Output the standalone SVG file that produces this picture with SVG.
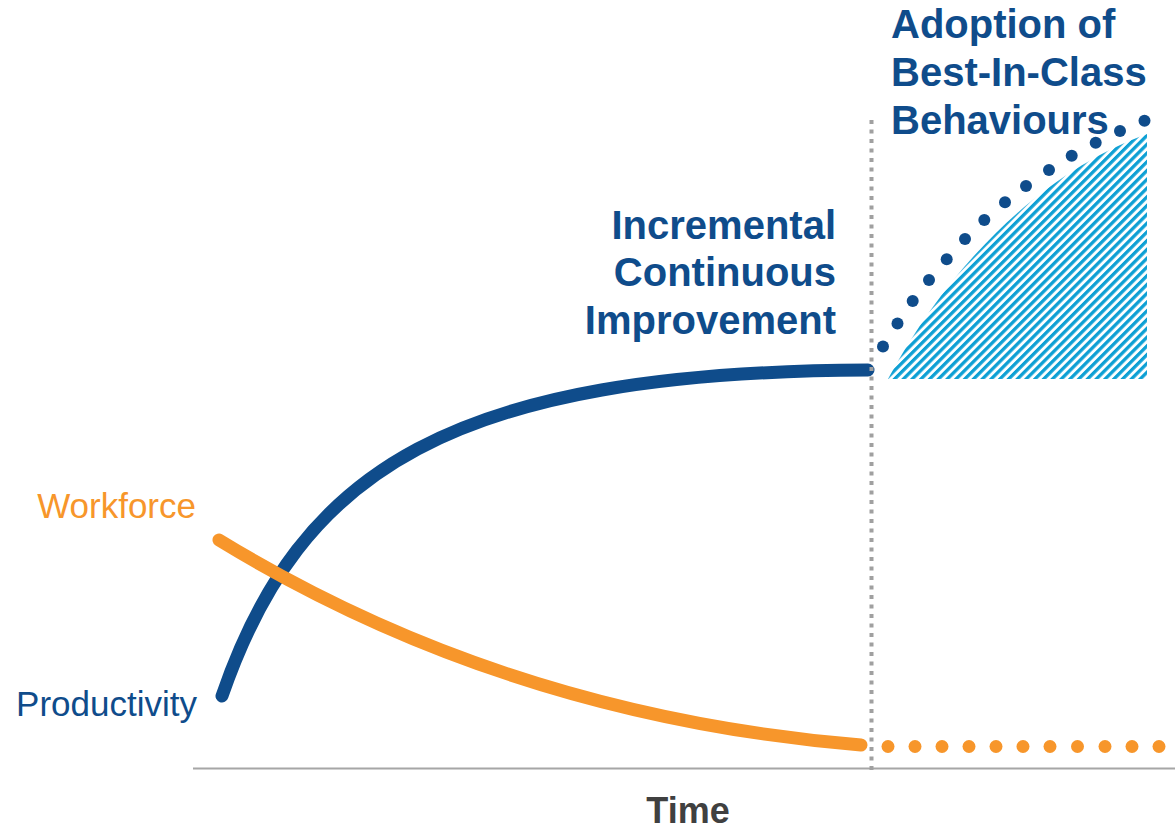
<svg xmlns="http://www.w3.org/2000/svg" width="1175" height="829" viewBox="0 0 1175 829">
  <style>
    .lbl { font-family: "Liberation Sans", Arial, sans-serif; }
    .bold { font-family: "Liberation Sans", Arial, sans-serif; font-weight: bold; fill: #0f4c8b; }
    .curve { fill: none; stroke-width: 13; stroke-linecap: round; }
    .bdot { fill: #0f4c8b; }
    .odot { fill: #f7962b; }
  </style>
  <defs>
    <pattern id="hatch" patternUnits="userSpaceOnUse" width="6.2" height="6.2" patternTransform="rotate(45)">
      <rect x="0" y="0" width="3.3" height="6.2" fill="#0ea0d4"/>
    </pattern>
  </defs>
  <rect width="1175" height="829" fill="#ffffff"/>

  <g id="hatch-area">
    <path d="M888,379 L1147,379 L1147,134 C1060,165 960,245 888,379 Z" fill="url(#hatch)"/>
  </g>

  <g id="axis">
    <line x1="193" y1="768.5" x2="1175" y2="768.5" stroke="#a6a6a6" stroke-width="2"/>
  </g>

  <g id="connectors">
    <path id="productivity-curve" class="curve" stroke="#0f4c8b" d="M222,696 C300,470 450,372 868,370"/>
    <path id="workforce-curve" class="curve" stroke="#f7962b" d="M219,540 C350,620 560,720 861,745"/>
    <g id="best-in-class-dots">
      <circle class="bdot" cx="883" cy="346.5" r="6"/>
      <circle class="bdot" cx="897.5" cy="323.5" r="6"/>
      <circle class="bdot" cx="912.7" cy="301" r="6"/>
      <circle class="bdot" cx="929" cy="280" r="6"/>
      <circle class="bdot" cx="946.7" cy="259.3" r="6"/>
      <circle class="bdot" cx="965" cy="239" r="6"/>
      <circle class="bdot" cx="984.3" cy="220" r="6"/>
      <circle class="bdot" cx="1005" cy="202.3" r="6"/>
      <circle class="bdot" cx="1026" cy="186" r="6"/>
      <circle class="bdot" cx="1049" cy="170" r="6"/>
      <circle class="bdot" cx="1071.7" cy="155.7" r="6"/>
      <circle class="bdot" cx="1095.7" cy="142.7" r="6"/>
      <circle class="bdot" cx="1120" cy="131" r="6"/>
      <circle class="bdot" cx="1144.5" cy="120.7" r="6"/>
    </g>
    <g id="workforce-dots">
      <circle class="odot" cx="888" cy="746.5" r="6.5"/>
      <circle class="odot" cx="915" cy="746.5" r="6.5"/>
      <circle class="odot" cx="942" cy="746.5" r="6.5"/>
      <circle class="odot" cx="969" cy="746.5" r="6.5"/>
      <circle class="odot" cx="996" cy="746.5" r="6.5"/>
      <circle class="odot" cx="1023" cy="746.5" r="6.5"/>
      <circle class="odot" cx="1050" cy="746.5" r="6.5"/>
      <circle class="odot" cx="1077.5" cy="746.5" r="6.5"/>
      <circle class="odot" cx="1105" cy="746.5" r="6.5"/>
      <circle class="odot" cx="1132" cy="746.5" r="6.5"/>
      <circle class="odot" cx="1159" cy="746.5" r="6.5"/>
    </g>
    <line id="divider" x1="871.5" y1="120" x2="871.5" y2="770" stroke="#a0a0a0" stroke-width="4" stroke-dasharray="4 5.5"/>
  </g>

  <g id="label-workforce">
    <text class="lbl" x="196" y="517.5" font-size="35" fill="#f7962b" text-anchor="end">Workforce</text>
  </g>
  <g id="label-productivity">
    <text class="lbl" x="197" y="715.5" font-size="35" fill="#0f4c8b" text-anchor="end">Productivity</text>
  </g>
  <g id="label-incremental">
    <text class="bold" font-size="40" text-anchor="end" x="836" y="239">Incremental</text>
    <text class="bold" font-size="40" text-anchor="end" x="836" y="286">Continuous</text>
    <text class="bold" font-size="40" text-anchor="end" x="836" y="334">Improvement</text>
  </g>
  <g id="label-adoption">
    <text class="bold" font-size="40" x="891" y="38">Adoption of</text>
    <text class="bold" font-size="40" x="891" y="86">Best-In-Class</text>
    <text class="bold" font-size="40" x="891" y="134">Behaviours</text>
  </g>
  <g id="label-time">
    <text class="lbl" x="688" y="823" font-size="36" font-weight="bold" fill="#404040" text-anchor="middle">Time</text>
  </g>
</svg>
